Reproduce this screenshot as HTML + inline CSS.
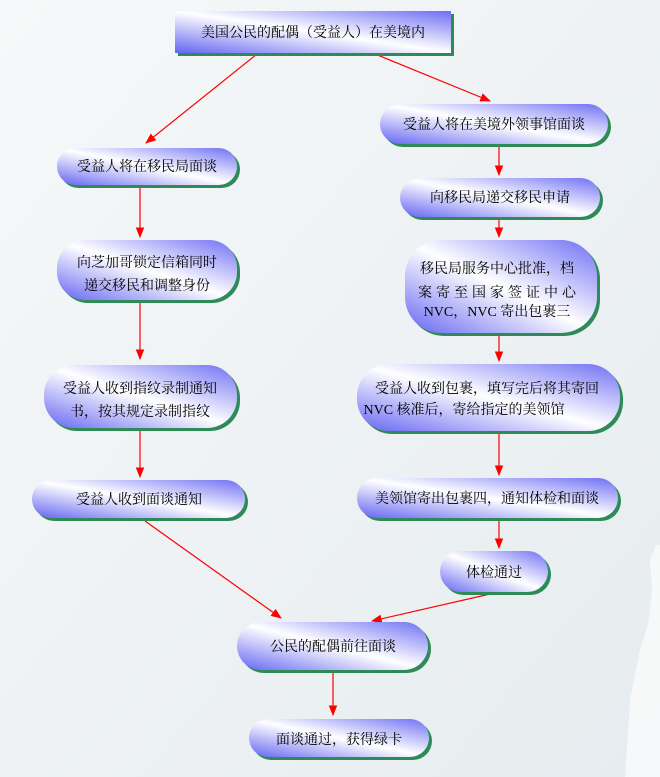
<!DOCTYPE html>
<html><head><meta charset="utf-8"><style>
html,body{margin:0;padding:0;width:660px;height:777px;overflow:hidden;background:#eef2f4}
svg{display:block}
text{font-family:"Liberation Serif","Noto Serif CJK SC","Noto Sans CJK SC",serif;font-size:14px;fill:#000}
</style></head><body>
<svg width="660" height="777" viewBox="0 0 660 777">
<defs>
<linearGradient id="bg" x1="0" y1="0" x2="1" y2="1"><stop offset="0" stop-color="#f6f8f9"/><stop offset="1" stop-color="#e6ecef"/></linearGradient>
<linearGradient id="g" x1="0" y1="1" x2="1" y2="0"><stop offset="0" stop-color="#6464f2"/><stop offset="0.5" stop-color="#ffffff"/><stop offset="1" stop-color="#6e6ef4"/></linearGradient>
<marker id="a" viewBox="0 0 10 10" refX="9" refY="5" markerWidth="9" markerHeight="9" orient="auto"><path d="M0,1 L10,5 L0,9 z" fill="#ff0000"/></marker>
</defs>
<rect width="660" height="777" fill="url(#bg)"/>
<path d="M625,777 L630,700 L640,650 L648,625 L652,590 L650,560 L656,545 L660,545 L660,777 z" fill="#f8f9fa" opacity="0.9"/>
<g stroke="#ff0000" stroke-width="1.2" fill="none" marker-end="url(#a)">
<line x1="257" y1="54" x2="146" y2="143"/>
<line x1="375" y1="54" x2="490" y2="101"/>
<line x1="140" y1="186" x2="140" y2="237"/>
<line x1="140" y1="301" x2="140" y2="359"/>
<line x1="140" y1="429" x2="140" y2="477"/>
<line x1="499" y1="145" x2="499" y2="175"/>
<line x1="499" y1="218" x2="499" y2="237"/>
<line x1="499" y1="334" x2="499" y2="361"/>
<line x1="499" y1="432" x2="499" y2="475"/>
<line x1="499" y1="519" x2="499" y2="548"/>
<line x1="145" y1="521" x2="281" y2="618"/>
<line x1="490" y1="594" x2="372" y2="621"/>
<line x1="333" y1="671" x2="333" y2="715"/>
</g>
<g fill="#2e8b57">
<rect x="178" y="14" width="276" height="42"/>
<rect x="60" y="151" width="180" height="37" rx="18.5"/>
<rect x="60" y="243" width="180" height="60" rx="28"/>
<rect x="47" y="368" width="193" height="63" rx="30"/>
<rect x="35" y="483" width="213" height="38" rx="19"/>
<rect x="383" y="107" width="228" height="40" rx="20"/>
<rect x="403" y="181" width="200" height="39" rx="19.5"/>
<rect x="408" y="243" width="192" height="93" rx="36"/>
<rect x="360" y="367" width="263" height="67" rx="32"/>
<rect x="360" y="481" width="261" height="40" rx="20"/>
<rect x="443" y="554" width="108" height="41" rx="20.5"/>
<rect x="240" y="625" width="191" height="48" rx="24"/>
<rect x="252" y="722" width="180" height="38" rx="19"/>
</g>
<g fill="url(#g)">
<rect x="175" y="11" width="276" height="42"/>
<rect x="57" y="148" width="180" height="37" rx="18.5"/>
<rect x="57" y="240" width="180" height="60" rx="28"/>
<rect x="44" y="365" width="193" height="63" rx="30"/>
<rect x="32" y="480" width="213" height="38" rx="19"/>
<rect x="380" y="104" width="228" height="40" rx="20"/>
<rect x="400" y="178" width="200" height="39" rx="19.5"/>
<rect x="405" y="240" width="192" height="93" rx="36"/>
<rect x="357" y="364" width="263" height="67" rx="32"/>
<rect x="357" y="478" width="261" height="40" rx="20"/>
<rect x="440" y="551" width="108" height="41" rx="20.5"/>
<rect x="237" y="622" width="191" height="48" rx="24"/>
<rect x="249" y="719" width="180" height="38" rx="19"/>
</g>
<g text-anchor="middle">
<text x="313" y="37">美国公民的配偶（受益人）在美境内</text>
<text x="147" y="171">受益人将在移民局面谈</text>
<text x="147" y="267">向芝加哥锁定信箱同时</text>
<text x="147" y="290">递交移民和调整身份</text>
<text x="140" y="393">受益人收到指纹录制通知</text>
<text x="140" y="416">书，按其规定录制指纹</text>
<text x="139" y="504">受益人收到面谈通知</text>
<text x="494" y="129">受益人将在美境外领事馆面谈</text>
<text x="500" y="202">向移民局递交移民申请</text>
<text x="497" y="273">移民局服务中心批准，档</text>
<text x="497" y="297" textLength="158" lengthAdjust="spacing">案寄至国家签证中心</text>
<text x="497" y="316">NVC，NVC 寄出包裹三</text>
<text x="487" y="393">受益人收到包裹，填写完后将其寄回</text>
<text x="464" y="414">NVC 核准后，寄给指定的美领馆</text>
<text x="487" y="503">美领馆寄出包裹四，通知体检和面谈</text>
<text x="494" y="577">体检通过</text>
<text x="333" y="651">公民的配偶前往面谈</text>
<text x="339" y="744">面谈通过，获得绿卡</text>
</g>
</svg>
</body></html>
